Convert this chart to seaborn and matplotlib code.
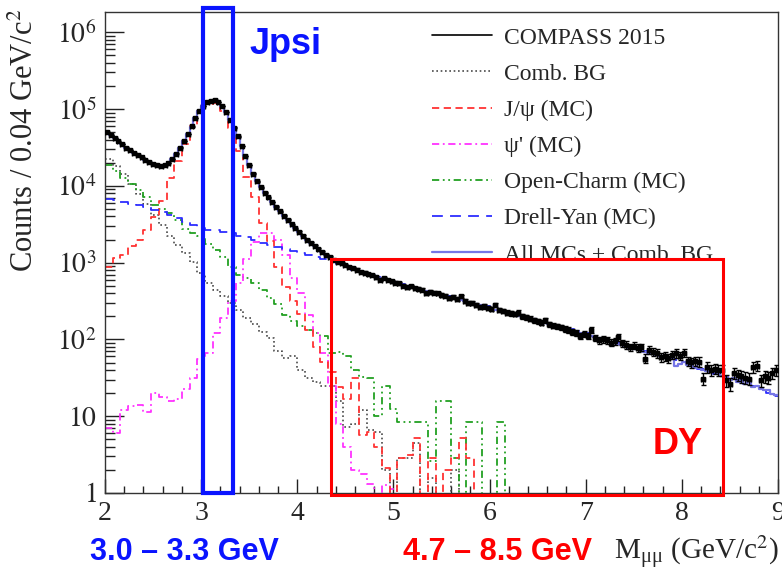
import numpy as np
import pandas as pd
import matplotlib
matplotlib.use("Agg")
import matplotlib.pyplot as plt
import seaborn as sns
from matplotlib.patches import Rectangle
from matplotlib.lines import Line2D
from matplotlib.ticker import FixedLocator, FixedFormatter, MultipleLocator, LogLocator, NullFormatter

# ---------------- data (log10 of counts per 0.04 GeV/c^2) ----------------
mass_min = 2.0
data_bin_width = 0.04
mc_bin_width = 0.08

data_log10 = [
    4.70, 4.66, 4.62, 4.58, 4.545, 4.50, 4.47, 4.43, 4.40, 4.37,
    4.34, 4.31, 4.285, 4.27, 4.265, 4.275, 4.30, 4.35, 4.42, 4.50,
    4.585, 4.675, 4.775, 4.88, 4.97, 5.04, 5.09, 5.11, 5.115, 5.09,
    5.04, 4.96, 4.86, 4.76, 4.645, 4.52, 4.39, 4.27, 4.16, 4.06,
    3.98, 3.91, 3.85, 3.79, 3.73, 3.67, 3.61, 3.56, 3.50, 3.45,
    3.40, 3.35, 3.30, 3.26, 3.22, 3.18, 3.14, 3.10, 3.07, 3.04,
    3.01, 3.00, 2.97, 2.94, 2.93, 2.91, 2.88, 2.87, 2.85, 2.84,
    2.81, 2.78, 2.80, 2.775, 2.76, 2.74, 2.73, 2.70, 2.68, 2.69,
    2.67, 2.66, 2.65, 2.60, 2.62, 2.61, 2.60, 2.58, 2.57, 2.54,
    2.55, 2.53, 2.56, 2.50, 2.48, 2.47, 2.45, 2.42, 2.43, 2.41,
    2.40, 2.45, 2.38, 2.37, 2.35, 2.34, 2.33, 2.35, 2.30, 2.29,
    2.27, 2.25, 2.24, 2.22, 2.25, 2.20, 2.18, 2.17, 2.16, 2.14,
    2.12, 2.10, 2.08, 2.05, 2.07, 2.05, 2.12, 2.02, 1.99, 2.00,
    1.99, 1.96, 1.98, 2.03, 1.95, 1.93, 1.90, 1.92, 1.89, 1.90,
    1.75, 1.86, 1.84, 1.82, 1.77, 1.78, 1.76, 1.80, 1.82, 1.79,
    1.83, 1.72, 1.70, 1.72, 1.71, 1.49, 1.64, 1.60, 1.62, 1.60,
    1.60, 1.47, 1.42, 1.56, 1.54, 1.52, 1.50, 1.49, 1.64, 1.66,
    1.47, 1.52, 1.50, 1.56, 1.60,
]

total_mc_log10 = [
    4.69, 4.66, 4.62, 4.58, 4.54, 4.50, 4.47, 4.43, 4.40, 4.37,
    4.34, 4.31, 4.285, 4.27, 4.26, 4.27, 4.30, 4.35, 4.42, 4.50,
    4.58, 4.67, 4.77, 4.88, 4.97, 5.04, 5.09, 5.11, 5.115, 5.09,
    5.04, 4.96, 4.86, 4.76, 4.64, 4.52, 4.39, 4.27, 4.16, 4.06,
    3.98, 3.91, 3.85, 3.79, 3.73, 3.67, 3.61, 3.56, 3.50, 3.45,
    3.40, 3.35, 3.30, 3.26, 3.22, 3.18, 3.14, 3.10, 3.07, 3.04,
    3.02, 2.99, 2.97, 2.95, 2.93, 2.91, 2.89, 2.87, 2.855, 2.84,
    2.82, 2.805, 2.79, 2.775, 2.76, 2.745, 2.73, 2.715, 2.70, 2.69,
    2.675, 2.66, 2.645, 2.63, 2.62, 2.605, 2.59, 2.58, 2.565, 2.55,
    2.54, 2.525, 2.51, 2.50, 2.485, 2.47, 2.46, 2.445, 2.43, 2.42,
    2.405, 2.39, 2.38, 2.365, 2.35, 2.34, 2.325, 2.31, 2.30, 2.285,
    2.27, 2.26, 2.245, 2.23, 2.215, 2.20, 2.19, 2.175, 2.16, 2.145,
    2.13, 2.12, 2.105, 2.09, 2.075, 2.06, 2.045, 2.03, 2.015, 2.00,
    1.985, 1.97, 1.955, 1.94, 1.925, 1.91, 1.895, 1.88, 1.87, 1.855,
    1.84, 1.825, 1.81, 1.80, 1.78, 1.77, 1.75, 1.74, 1.66, 1.68,
    1.70, 1.67, 1.65, 1.63, 1.63, 1.60, 1.59, 1.58, 1.57, 1.56,
    1.53, 1.51, 1.47, 1.50, 1.44, 1.47, 1.42, 1.45, 1.38, 1.40,
    1.36, 1.34, 1.34, 1.29, 1.27,
]

dy_log10 = [
    3.83, 3.81, 3.79, 3.77, 3.75, 3.72, 3.69, 3.66, 3.62, 3.58,
    3.53, 3.49, 3.45, 3.43, 3.42, 3.40, 3.38, 3.35, 3.33, 3.30,
    3.26, 3.23, 3.21, 3.18, 3.15, 3.13, 3.10, 3.08, 3.05, 3.02,
    2.98, 2.95, 2.91, 2.88, 2.845, 2.815, 2.785, 2.755, 2.725, 2.70,
    2.67, 2.64, 2.615, 2.59, 2.56, 2.535, 2.51, 2.485, 2.455, 2.43,
    2.40, 2.375, 2.35, 2.325, 2.30, 2.27, 2.245, 2.215, 2.19, 2.16,
    2.13, 2.105, 2.08, 2.05, 2.02, 1.99, 1.96, 1.93, 1.90, 1.88,
    1.85, 1.82, 1.79, 1.76, 1.73, 1.70, 1.66, 1.62, 1.60, 1.55,
    1.53, 1.48, 1.47, 1.41, 1.40, 1.34, 1.30, 1.26,
]

jpsi_log10 = [
    2.94, 3.06, 3.10, 3.22, 3.30, 3.42, 3.60, 3.80, 4.10, 4.33,
    4.55, 4.78, 4.98, 5.07, 5.08, 4.97, 4.76, 4.45, 4.12, 3.85,
    3.52, 3.28, 2.95, 2.68, 2.50, 2.33, 2.12, 1.90, 1.70, 1.58,
    1.38, 1.23, 1.50, 0.75, 0.80, 0.60, 0.33, None, 0.46, 0.50,
    0.72, None, 0.46, None, 0.30, 0.46, 0.72, 0.46,
] + [None] * 40

psip_log10 = [
    0.85, 0.78, 1.08, 1.13, 1.14, 1.05, 1.30, 1.25, 1.20, 1.22,
    1.36, 1.50, 1.74, 1.82, 2.08, 2.28, 2.50, 2.73, 3.05, 3.27,
    3.38, 3.38, 3.30, 3.10, 2.80, 2.60, 2.32, 2.08, 1.82, 1.40,
    0.90, 0.60, 0.30, 0.25, 0.12, None, 0.10, 0.05,
] + [None] * 50

ocharm_log10 = [
    4.27, 4.20, 4.10, 4.03, 3.95, 3.86, 3.75, 3.70, 3.65, 3.55,
    3.44, 3.38, 3.35, 3.24, 3.16, 3.08, 2.95, 2.84, 2.80, 2.74,
    2.65, 2.54, 2.46, 2.32, 2.24, 2.18, 2.12, 2.08, 2.05, 1.82,
    1.84, 1.78, 1.60, 1.51, 1.50, 1.00, 1.40, 1.10, 0.92, 0.92,
    0.92, 0.92, 0.42, 1.20, 1.20, 0.46, None, 0.92, 0.92, None,
    None, 0.92,
] + [None] * 36

combbg_log10 = [
    4.35, 4.26, 4.15, 4.03, 3.90, 3.77, 3.62, 3.49, 3.35, 3.23,
    3.13, 3.01, 2.86, 2.74, 2.65, 2.57, 2.48, 2.38, 2.28, 2.20,
    2.10, 2.02, 1.85, 1.76, 1.78, 1.60, 1.50, 1.45, 1.40, 1.40,
    1.20, 0.86, 0.90, 1.08, 0.82, 0.80, 0.30, None, 0.46, 0.46,
    0.65, None, 0.20, None, None, 0.30,
] + [None] * 42

legend_labels = ["COMPASS 2015", "Comb. BG", "J/\u03c8 (MC)", "\u03c8' (MC)",
                 "Open-Charm (MC)", "Drell-Yan (MC)", "All MCs + Comb. BG"]
ytick_values = [1, 10, 1e2, 1e3, 1e4, 1e5, 1e6]
ytick_labels = ["$1$", "$10$", "$10^{2}$", "$10^{3}$", "$10^{4}$", "$10^{5}$", "$10^{6}$"]
xtick_values = [2, 3, 4, 5, 6, 7, 8, 9]

# ---------------- styling ----------------
sns.set_theme(style="white")
plt.rcParams['font.family'] = ['Liberation Serif', 'DejaVu Serif']
plt.rcParams['mathtext.fontset'] = 'stix'

W, H = 782, 573
fig = plt.figure(figsize=(W / 100, H / 100), dpi=100)
fig.patch.set_facecolor("white")
ax = fig.add_axes([105 / W, 1 - 493 / H, (778 - 105) / W, (493 - 12) / H])
ax.set_facecolor("white")


def to_counts(logs):
    return np.array([0.0 if v is None else 10.0 ** v for v in logs])


def edges_for(n, width):
    return mass_min + width * np.arange(n + 1)


def step_hist(logs, width, **kw):
    counts = to_counts(logs)
    edges = edges_for(len(counts), width)
    df = pd.DataFrame({"mass": 0.5 * (edges[:-1] + edges[1:]), "count": counts})
    sns.histplot(data=df, x="mass", weights="count", bins=list(edges),
                 element="step", fill=False, ax=ax, **kw)


styles = {
    "combbg": dict(color="#4a4a4a", linestyle=(0, (1, 1.6)), linewidth=1.2),
    "jpsi": dict(color="#ff3333", linestyle=(0, (4, 2.5)), linewidth=1.3),
    "psip": dict(color="#ff33ff", linestyle=(0, (4, 2, 1, 2)), linewidth=1.3),
    "ocharm": dict(color="#22a022", linestyle=(0, (4, 2, 1, 2, 1, 2)), linewidth=1.3),
    "dy": dict(color="#2d2dff", linestyle=(0, (6, 4)), linewidth=1.3),
    "total": dict(color="#7676e6", linestyle="-", linewidth=1.6),
}

step_hist(combbg_log10, mc_bin_width, **styles["combbg"], zorder=2)
step_hist(ocharm_log10, mc_bin_width, **styles["ocharm"], zorder=2)
step_hist(psip_log10, mc_bin_width, **styles["psip"], zorder=2)
step_hist(jpsi_log10, mc_bin_width, **styles["jpsi"], zorder=2)
step_hist(dy_log10, mc_bin_width, **styles["dy"], zorder=2)
step_hist(total_mc_log10, data_bin_width, **styles["total"], zorder=3)

# data points with statistical errors
d_counts = to_counts(data_log10)
d_edges = edges_for(len(d_counts), data_bin_width)
d_centers = 0.5 * (d_edges[:-1] + d_edges[1:])
ax.errorbar(d_centers, d_counts, yerr=np.sqrt(d_counts), xerr=data_bin_width / 2,
            fmt="s", ms=3.0, color="black", ecolor="black", elinewidth=1.0,
            capsize=1.8, capthick=1.0, zorder=4)

ax.set_yscale("log")
ax.set_xlim(2, 9)
ax.set_ylim(1, 10 ** 6.265)
ax.set_xlabel("")
ax.set_ylabel("")

ax.yaxis.set_major_locator(FixedLocator(ytick_values))
ax.yaxis.set_major_formatter(FixedFormatter(ytick_labels))
ax.yaxis.set_minor_locator(LogLocator(base=10, subs=np.arange(2, 10)))
ax.yaxis.set_minor_formatter(NullFormatter())
ax.xaxis.set_major_locator(FixedLocator(xtick_values))
ax.xaxis.set_major_formatter(FixedFormatter([str(v) for v in xtick_values]))
ax.xaxis.set_minor_locator(MultipleLocator(0.2))

ax.tick_params(which="both", direction="in", left=True, bottom=True,
               top=False, right=False, color="#222222", width=1.0)
ax.tick_params(axis="y", which="major", length=14, pad=6, labelsize=20)
ax.tick_params(axis="y", which="minor", length=7)
ax.tick_params(axis="x", which="major", length=10, pad=6, labelsize=20)
ax.tick_params(axis="x", which="minor", length=5)
for s in ax.spines.values():
    s.set_color("#333333")
    s.set_linewidth(1.0)

# y-axis title, ROOT style (aligned at the top end)
fig.text(25 / W, 1 - 9 / H, "Counts / 0.04 GeV/c$^{2}$", rotation=90,
         ha="center", va="top", fontsize=22)
# x-axis title
fig.text(779 / W, 1 - 552 / H, "M$_{\\mathregular{\\mu\\mu}}$ (GeV/c$^{2}$)",
         ha="right", va="center", fontsize=21)

# legend
handles = [
    Line2D([], [], color="black", linewidth=1.2),
    Line2D([], [], **styles["combbg"]),
    Line2D([], [], **styles["jpsi"]),
    Line2D([], [], **styles["psip"]),
    Line2D([], [], **styles["ocharm"]),
    Line2D([], [], **styles["dy"]),
    Line2D([], [], **styles["total"]),
]
ax.legend(handles, legend_labels, loc="upper left",
          bbox_to_anchor=(432 / W, 1 - 27 / H), bbox_transform=fig.transFigure,
          frameon=False, fontsize=17, handlelength=2.55, handletextpad=0.5,
          labelspacing=0.62, borderpad=0, borderaxespad=0)

# annotation boxes
ax.add_patch(Rectangle((3.02, 1.0), 0.31, 10 ** 6.32 - 1.0, fill=False,
                       edgecolor="#0a14ff", linewidth=3.0, clip_on=False, zorder=10))
ax.add_patch(Rectangle((4.35, 10 ** -0.026), 8.43 - 4.35, 10 ** 3.045 - 10 ** -0.026,
                       fill=False, edgecolor="#ff0000", linewidth=2.2, clip_on=False,
                       zorder=10))

bold = dict(family=["Liberation Sans", "DejaVu Sans"], fontweight="bold")
fig.text(250 / W, 1 - 45 / H, "Jpsi", color="#0a14ff", fontsize=26, ha="left",
         va="center", **bold)
fig.text(653 / W, 1 - 445 / H, "DY", color="#ff0000", fontsize=26, ha="left",
         va="center", **bold)
fig.text(90 / W, 1 - 552 / H, "3.0 \u2013 3.3 GeV", color="#0a14ff", fontsize=22,
         ha="left", va="center", **bold)
fig.text(403 / W, 1 - 552 / H, "4.7 \u2013 8.5 GeV", color="#ff0000", fontsize=22,
         ha="left", va="center", **bold)

fig.savefig("out.png", dpi=100, facecolor="white")
